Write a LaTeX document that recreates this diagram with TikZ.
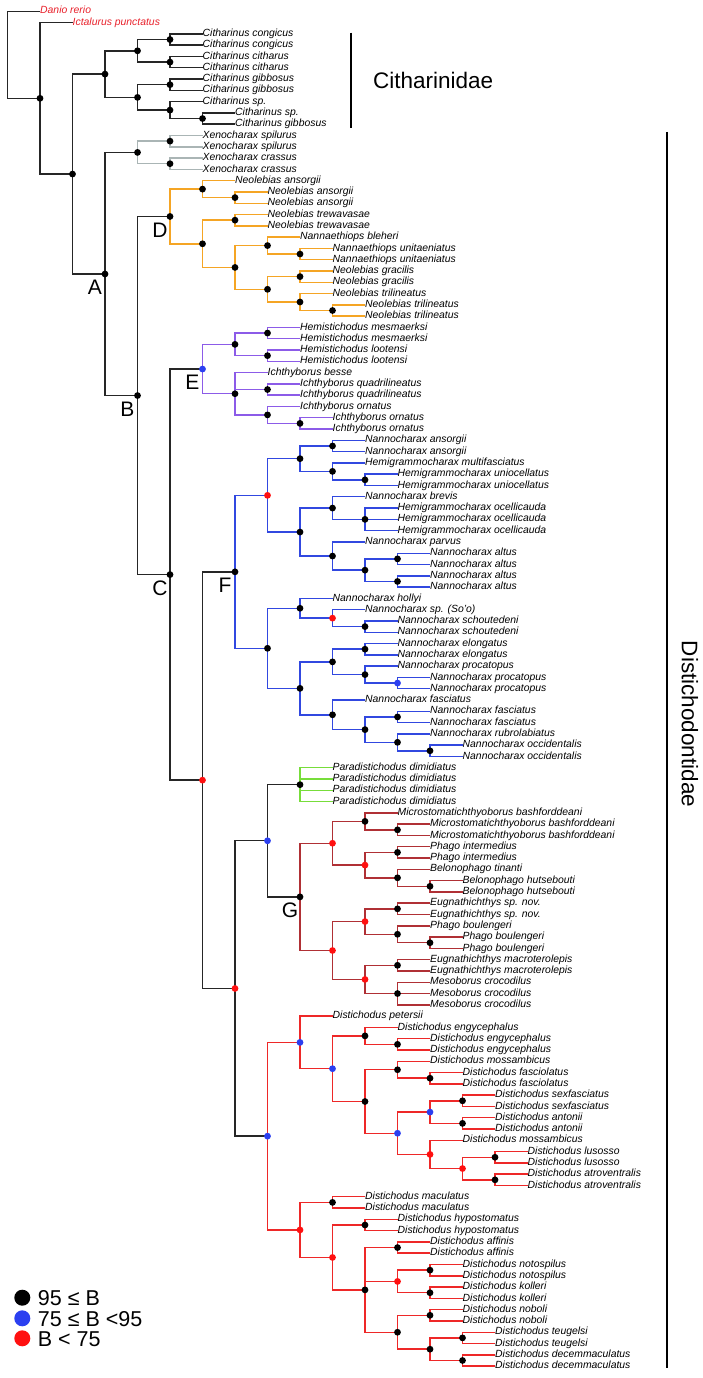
\documentclass[tikz,border=0pt]{standalone}
\usepackage{fontspec}
\setmainfont{Liberation Sans}
\usetikzlibrary{calc}
\definecolor{brk}{HTML}{262626}
\definecolor{brgray}{HTML}{AAB5B5}
\definecolor{brorange}{HTML}{F5A524}
\definecolor{brpurple}{HTML}{8C5BE8}
\definecolor{brblue}{HTML}{3148E0}
\definecolor{brgreen}{HTML}{77DD3A}
\definecolor{brdred}{HTML}{B03035}
\definecolor{brred}{HTML}{EE2828}
\definecolor{dotblue}{HTML}{2B3FF0}
\definecolor{dotred}{HTML}{FF1010}
\definecolor{outred}{HTML}{E8202A}
\newcommand\mytip[5][tiplab]{\coordinate (#2) at ({(7.5+32.5*#4)*1pt},{(-11.3-11.29*(#3-1))*1pt}); \node[#1] (#2l) at (#2) {#5};}
\newcommand\mynode[4]{\path let \p1=(#3),\p2=(#4) in coordinate (#1) at ({(7.5+32.5*#2)*1pt},{0.5*(\y1)+0.5*(\y2)});}
\newcommand\br[3]{\foreach \c in {#3} {\draw[#1] (#2) |- (\c);}}
\newcommand\dt[2]{\foreach \c in {#2} {\fill[#1] (\c) circle (3.4);}}
\begin{document}
\begin{tikzpicture}[x=1pt,y=1pt,
  tiplab/.style={anchor=mid west,inner sep=0pt,font=\fontsize{10.4}{12}\selectfont\itshape,text=black},
  outlab/.style={tiplab,text=outred},
  bk/.style={draw=brk,line width=1.45pt},
  gy/.style={draw=brgray,line width=1.45pt},
  og/.style={draw=brorange,line width=1.45pt},
  pu/.style={draw=brpurple,line width=1.45pt},
  bl/.style={draw=brblue,line width=1.45pt},
  gr/.style={draw=brgreen,line width=1.45pt},
  dr/.style={draw=brdred,line width=1.45pt},
  rd/.style={draw=brred,line width=1.45pt},
  cladelab/.style={inner sep=0pt,font=\fontsize{21}{24}\selectfont},
  famlab/.style={inner sep=0pt,font=\fontsize{22.5}{26}\selectfont},
  leglab/.style={anchor=base west,inner sep=0pt,font=\fontsize{21.5}{24}\selectfont},
  bar/.style={draw=black,line width=1.4pt}]
\useasboundingbox (0,0) rectangle (702,-1378);
% tips
\mytip[outlab]{t1}{1}{1}{Danio rerio}
\mytip[outlab]{t2}{2}{2}{Ictalurus punctatus}
\mytip{t3}{3}{6}{Citharinus congicus}
\mytip{t4}{4}{6}{Citharinus congicus}
\mytip{t5}{5}{6}{Citharinus citharus}
\mytip{t6}{6}{6}{Citharinus citharus}
\mytip{t7}{7}{6}{Citharinus gibbosus}
\mytip{t8}{8}{6}{Citharinus gibbosus}
\mytip{t9}{9}{6}{Citharinus sp.}
\mytip{t10}{10}{7}{Citharinus sp.}
\mytip{t11}{11}{7}{Citharinus gibbosus}
\mytip{t12}{12}{6}{Xenocharax spilurus}
\mytip{t13}{13}{6}{Xenocharax spilurus}
\mytip{t14}{14}{6}{Xenocharax crassus}
\mytip{t15}{15}{6}{Xenocharax crassus}
\mytip{t16}{16}{7}{Neolebias ansorgii}
\mytip{t17}{17}{8}{Neolebias ansorgii}
\mytip{t18}{18}{8}{Neolebias ansorgii}
\mytip{t19}{19}{8}{Neolebias trewavasae}
\mytip{t20}{20}{8}{Neolebias trewavasae}
\mytip{t21}{21}{9}{Nannaethiops bleheri}
\mytip{t22}{22}{10}{Nannaethiops unitaeniatus}
\mytip{t23}{23}{10}{Nannaethiops unitaeniatus}
\mytip{t24}{24}{10}{Neolebias gracilis}
\mytip{t25}{25}{10}{Neolebias gracilis}
\mytip{t26}{26}{10}{Neolebias trilineatus}
\mytip{t27}{27}{11}{Neolebias trilineatus}
\mytip{t28}{28}{11}{Neolebias trilineatus}
\mytip{t29}{29}{9}{Hemistichodus mesmaerksi}
\mytip{t30}{30}{9}{Hemistichodus mesmaerksi}
\mytip{t31}{31}{9}{Hemistichodus lootensi}
\mytip{t32}{32}{9}{Hemistichodus lootensi}
\mytip{t33}{33}{8}{Ichthyborus besse}
\mytip{t34}{34}{9}{Ichthyborus quadrilineatus}
\mytip{t35}{35}{9}{Ichthyborus quadrilineatus}
\mytip{t36}{36}{9}{Ichthyborus ornatus}
\mytip{t37}{37}{10}{Ichthyborus ornatus}
\mytip{t38}{38}{10}{Ichthyborus ornatus}
\mytip{t39}{39}{11}{Nannocharax ansorgii}
\mytip{t40}{40}{11}{Nannocharax ansorgii}
\mytip{t41}{41}{11}{Hemigrammocharax multifasciatus}
\mytip{t42}{42}{12}{Hemigrammocharax uniocellatus}
\mytip{t43}{43}{12}{Hemigrammocharax uniocellatus}
\mytip{t44}{44}{11}{Nannocharax brevis}
\mytip{t45}{45}{12}{Hemigrammocharax ocellicauda}
\mytip{t46}{46}{12}{Hemigrammocharax ocellicauda}
\mytip{t47}{47}{12}{Hemigrammocharax ocellicauda}
\mytip{t48}{48}{11}{Nannocharax parvus}
\mytip{t49}{49}{13}{Nannocharax altus}
\mytip{t50}{50}{13}{Nannocharax altus}
\mytip{t51}{51}{13}{Nannocharax altus}
\mytip{t52}{52}{13}{Nannocharax altus}
\mytip{t53}{53}{10}{Nannocharax hollyi}
\mytip{t54}{54}{11}{Nannocharax sp. (So’o)}
\mytip{t55}{55}{12}{Nannocharax schoutedeni}
\mytip{t56}{56}{12}{Nannocharax schoutedeni}
\mytip{t57}{57}{12}{Nannocharax elongatus}
\mytip{t58}{58}{12}{Nannocharax elongatus}
\mytip{t59}{59}{12}{Nannocharax procatopus}
\mytip{t60}{60}{13}{Nannocharax procatopus}
\mytip{t61}{61}{13}{Nannocharax procatopus}
\mytip{t62}{62}{11}{Nannocharax fasciatus}
\mytip{t63}{63}{13}{Nannocharax fasciatus}
\mytip{t64}{64}{13}{Nannocharax fasciatus}
\mytip{t65}{65}{13}{Nannocharax rubrolabiatus}
\mytip{t66}{66}{14}{Nannocharax occidentalis}
\mytip{t67}{67}{14}{Nannocharax occidentalis}
\mytip{t68}{68}{10}{Paradistichodus dimidiatus}
\mytip{t69}{69}{10}{Paradistichodus dimidiatus}
\mytip{t70}{70}{10}{Paradistichodus dimidiatus}
\mytip{t71}{71}{10}{Paradistichodus dimidiatus}
\mytip{t72}{72}{12}{Microstomatichthyoborus bashforddeani}
\mytip{t73}{73}{13}{Microstomatichthyoborus bashforddeani}
\mytip{t74}{74}{13}{Microstomatichthyoborus bashforddeani}
\mytip{t75}{75}{13}{Phago intermedius}
\mytip{t76}{76}{13}{Phago intermedius}
\mytip{t77}{77}{13}{Belonophago tinanti}
\mytip{t78}{78}{14}{Belonophago hutsebouti}
\mytip{t79}{79}{14}{Belonophago hutsebouti}
\mytip{t80}{80}{13}{Eugnathichthys sp. nov.}
\mytip{t81}{81}{13}{Eugnathichthys sp. nov.}
\mytip{t82}{82}{13}{Phago boulengeri}
\mytip{t83}{83}{14}{Phago boulengeri}
\mytip{t84}{84}{14}{Phago boulengeri}
\mytip{t85}{85}{13}{Eugnathichthys macroterolepis}
\mytip{t86}{86}{13}{Eugnathichthys macroterolepis}
\mytip{t87}{87}{13}{Mesoborus crocodilus}
\mytip{t88}{88}{13}{Mesoborus crocodilus}
\mytip{t89}{89}{13}{Mesoborus crocodilus}
\mytip{t90}{90}{10}{Distichodus petersii}
\mytip{t91}{91}{12}{Distichodus engycephalus}
\mytip{t92}{92}{13}{Distichodus engycephalus}
\mytip{t93}{93}{13}{Distichodus engycephalus}
\mytip{t94}{94}{13}{Distichodus mossambicus}
\mytip{t95}{95}{14}{Distichodus fasciolatus}
\mytip{t96}{96}{14}{Distichodus fasciolatus}
\mytip{t97}{97}{15}{Distichodus sexfasciatus}
\mytip{t98}{98}{15}{Distichodus sexfasciatus}
\mytip{t99}{99}{15}{Distichodus antonii}
\mytip{t100}{100}{15}{Distichodus antonii}
\mytip{t101}{101}{14}{Distichodus mossambicus}
\mytip{t102}{102}{16}{Distichodus lusosso}
\mytip{t103}{103}{16}{Distichodus lusosso}
\mytip{t104}{104}{16}{Distichodus atroventralis}
\mytip{t105}{105}{16}{Distichodus atroventralis}
\mytip{t106}{106}{11}{Distichodus maculatus}
\mytip{t107}{107}{11}{Distichodus maculatus}
\mytip{t108}{108}{12}{Distichodus hypostomatus}
\mytip{t109}{109}{12}{Distichodus hypostomatus}
\mytip{t110}{110}{13}{Distichodus affinis}
\mytip{t111}{111}{13}{Distichodus affinis}
\mytip{t112}{112}{14}{Distichodus notospilus}
\mytip{t113}{113}{14}{Distichodus notospilus}
\mytip{t114}{114}{14}{Distichodus kolleri}
\mytip{t115}{115}{14}{Distichodus kolleri}
\mytip{t116}{116}{14}{Distichodus noboli}
\mytip{t117}{117}{14}{Distichodus noboli}
\mytip{t118}{118}{15}{Distichodus teugelsi}
\mytip{t119}{119}{15}{Distichodus teugelsi}
\mytip{t120}{120}{15}{Distichodus decemmaculatus}
\mytip{t121}{121}{15}{Distichodus decemmaculatus}
% internal nodes (post-order)
\mynode{c11}{5}{t3}{t4}
\mynode{c12}{5}{t5}{t6}
\mynode{c1}{4}{c11}{c12}
\mynode{c21}{5}{t7}{t8}
\mynode{c221}{6}{t10}{t11}
\mynode{c22}{5}{t9}{c221}
\mynode{c2}{4}{c21}{c22}
\mynode{cit}{3}{c1}{c2}
\mynode{x1}{5}{t12}{t13}
\mynode{x2}{5}{t14}{t15}
\mynode{xx}{4}{x1}{x2}
\mynode{dA}{7}{t17}{t18}
\mynode{dB}{6}{t16}{dA}
\mynode{dC}{7}{t19}{t20}
\mynode{dD}{9}{t22}{t23}
\mynode{dE}{8}{t21}{dD}
\mynode{dF}{9}{t24}{t25}
\mynode{dG}{10}{t27}{t28}
\mynode{dH}{9}{t26}{dG}
\mynode{dI}{8}{dF}{dH}
\mynode{dJ}{7}{dE}{dI}
\mynode{dK}{6}{dC}{dJ}
\mynode{D}{5}{dB}{dK}
\mynode{e11}{8}{t29}{t30}
\mynode{e12}{8}{t31}{t32}
\mynode{e1}{7}{e11}{e12}
\mynode{e21}{8}{t34}{t35}
\mynode{e221}{9}{t37}{t38}
\mynode{e22}{8}{t36}{e221}
\mynode{e2}{7}{t33}{e22}
\mynode{E}{6}{e1}{e2}
\mynode{f111}{10}{t39}{t40}
\mynode{f1121}{11}{t42}{t43}
\mynode{f112}{10}{t41}{f1121}
\mynode{f11}{9}{f111}{f112}
\mynode{f1211}{11}{t45}{t47}
\mynode{f121}{10}{t44}{f1211}
\mynode{f12211}{12}{t49}{t50}
\mynode{f12212}{12}{t51}{t52}
\mynode{f1221}{11}{f12211}{f12212}
\mynode{f122}{10}{t48}{f1221}
\mynode{f12}{9}{f121}{f122}
\mynode{f1}{8}{f11}{f12}
\mynode{f2111}{11}{t55}{t56}
\mynode{f211}{10}{t54}{f2111}
\mynode{f21}{9}{t53}{f211}
\mynode{f2211}{11}{t57}{t58}
\mynode{f22121}{12}{t60}{t61}
\mynode{f2212}{11}{t59}{f22121}
\mynode{f221}{10}{f2211}{f2212}
\mynode{f22211}{12}{t63}{t64}
\mynode{f222121}{13}{t66}{t67}
\mynode{f22212}{12}{t65}{f222121}
\mynode{f2221}{11}{f22211}{f22212}
\mynode{f222}{10}{t62}{f2221}
\mynode{f22}{9}{f221}{f222}
\mynode{f2}{8}{f21}{f22}
\mynode{F}{7}{f1}{f2}
\mynode{P}{9}{t68}{t71}
\mynode{g111}{12}{t73}{t74}
\mynode{g11}{11}{t72}{g111}
\mynode{g121}{12}{t75}{t76}
\mynode{g1221}{13}{t78}{t79}
\mynode{g122}{12}{t77}{g1221}
\mynode{g12}{11}{g121}{g122}
\mynode{g1}{10}{g11}{g12}
\mynode{g211}{12}{t80}{t81}
\mynode{g2121}{13}{t83}{t84}
\mynode{g212}{12}{t82}{g2121}
\mynode{g21}{11}{g211}{g212}
\mynode{g221}{12}{t85}{t86}
\mynode{g222}{12}{t87}{t89}
\mynode{g22}{11}{g221}{g222}
\mynode{g2}{10}{g21}{g22}
\mynode{G}{9}{g1}{g2}
\mynode{k1}{8}{P}{G}
\mynode{h1111}{12}{t92}{t93}
\mynode{h111}{11}{t91}{h1111}
\mynode{h11211}{13}{t95}{t96}
\mynode{h1121}{12}{t94}{h11211}
\mynode{h112211}{14}{t97}{t98}
\mynode{h112212}{14}{t99}{t100}
\mynode{h11221}{13}{h112211}{h112212}
\mynode{h1122211}{15}{t102}{t103}
\mynode{h1122212}{15}{t104}{t105}
\mynode{h112221}{14}{h1122211}{h1122212}
\mynode{h11222}{13}{t101}{h112221}
\mynode{h1122}{12}{h11221}{h11222}
\mynode{h112}{11}{h1121}{h1122}
\mynode{h11}{10}{h111}{h112}
\mynode{h1}{9}{t90}{h11}
\mynode{h21}{10}{t106}{t107}
\mynode{h221}{11}{t108}{t109}
\mynode{h2221}{12}{t110}{t111}
\mynode{h22221}{13}{t112}{t113}
\mynode{h22222}{13}{t114}{t115}
\mynode{h2222}{12}{h22221}{h22222}
\mynode{h22231}{13}{t116}{t117}
\mynode{h222321}{14}{t118}{t119}
\mynode{h222322}{14}{t120}{t121}
\mynode{h22232}{13}{h222321}{h222322}
\mynode{h2223}{12}{h22231}{h22232}
\mynode{h222}{11}{h2221}{h2223}
\mynode{h22}{10}{h221}{h222}
\mynode{h2}{9}{h21}{h22}
\mynode{k2}{8}{h1}{h2}
\mynode{K}{7}{k1}{k2}
\mynode{C2}{6}{F}{K}
\mynode{C}{5}{E}{C2}
\mynode{B}{4}{D}{C}
\mynode{A}{3}{xx}{B}
\mynode{n2}{2}{cit}{A}
\mynode{n1}{1}{t2}{n2}
\mynode{root}{0}{t1}{n1}
% branches
\br{bk}{root}{t1,n1}
\br{bk}{n1}{t2,n2}
\br{bk}{n2}{cit,A}
\br{bk}{cit}{c1,c2}
\br{bk}{c1}{c11,c12}
\br{bk}{c11}{t3,t4}
\br{bk}{c12}{t5,t6}
\br{bk}{c2}{c21,c22}
\br{bk}{c21}{t7,t8}
\br{bk}{c22}{t9,c221}
\br{bk}{c221}{t10,t11}
\br{bk}{A}{xx,B}
\br{bk}{B}{D,C}
\br{bk}{C}{E,C2}
\br{bk}{C2}{F,K}
\br{bk}{K}{k1,k2}
\br{bk}{k1}{P,G}
\br{gy}{xx}{x1,x2}
\br{gy}{x1}{t12,t13}
\br{gy}{x2}{t14,t15}
\br{og}{D}{dB,dK}
\br{og}{dB}{t16,dA}
\br{og}{dA}{t17,t18}
\br{og}{dK}{dC,dJ}
\br{og}{dC}{t19,t20}
\br{og}{dJ}{dE,dI}
\br{og}{dE}{t21,dD}
\br{og}{dD}{t22,t23}
\br{og}{dI}{dF,dH}
\br{og}{dF}{t24,t25}
\br{og}{dH}{t26,dG}
\br{og}{dG}{t27,t28}
\br{pu}{E}{e1,e2}
\br{pu}{e1}{e11,e12}
\br{pu}{e11}{t29,t30}
\br{pu}{e12}{t31,t32}
\br{pu}{e2}{t33,e21,e22}
\br{pu}{e21}{t34,t35}
\br{pu}{e22}{t36,e221}
\br{pu}{e221}{t37,t38}
\br{bl}{F}{f1,f2}
\br{bl}{f1}{f11,f12}
\br{bl}{f11}{f111,f112}
\br{bl}{f111}{t39,t40}
\br{bl}{f112}{t41,f1121}
\br{bl}{f1121}{t42,t43}
\br{bl}{f12}{f121,f122}
\br{bl}{f121}{t44,f1211}
\br{bl}{f1211}{t45,t46,t47}
\br{bl}{f122}{t48,f1221}
\br{bl}{f1221}{f12211,f12212}
\br{bl}{f12211}{t49,t50}
\br{bl}{f12212}{t51,t52}
\br{bl}{f2}{f21,f22}
\br{bl}{f21}{t53,f211}
\br{bl}{f211}{t54,f2111}
\br{bl}{f2111}{t55,t56}
\br{bl}{f22}{f221,f222}
\br{bl}{f221}{f2211,f2212}
\br{bl}{f2211}{t57,t58}
\br{bl}{f2212}{t59,f22121}
\br{bl}{f22121}{t60,t61}
\br{bl}{f222}{t62,f2221}
\br{bl}{f2221}{f22211,f22212}
\br{bl}{f22211}{t63,t64}
\br{bl}{f22212}{t65,f222121}
\br{bl}{f222121}{t66,t67}
\br{gr}{P}{t68,t69,t70,t71}
\br{dr}{G}{g1,g2}
\br{dr}{g1}{g11,g12}
\br{dr}{g11}{t72,g111}
\br{dr}{g111}{t73,t74}
\br{dr}{g12}{g121,g122}
\br{dr}{g121}{t75,t76}
\br{dr}{g122}{t77,g1221}
\br{dr}{g1221}{t78,t79}
\br{dr}{g2}{g21,g22}
\br{dr}{g21}{g211,g212}
\br{dr}{g211}{t80,t81}
\br{dr}{g212}{t82,g2121}
\br{dr}{g2121}{t83,t84}
\br{dr}{g22}{g221,g222}
\br{dr}{g221}{t85,t86}
\br{dr}{g222}{t87,t88,t89}
\br{rd}{k2}{h1,h2}
\br{rd}{h1}{t90,h11}
\br{rd}{h11}{h111,h112}
\br{rd}{h111}{t91,h1111}
\br{rd}{h1111}{t92,t93}
\br{rd}{h112}{h1121,h1122}
\br{rd}{h1121}{t94,h11211}
\br{rd}{h11211}{t95,t96}
\br{rd}{h1122}{h11221,h11222}
\br{rd}{h11221}{h112211,h112212}
\br{rd}{h112211}{t97,t98}
\br{rd}{h112212}{t99,t100}
\br{rd}{h11222}{t101,h112221}
\br{rd}{h112221}{h1122211,h1122212}
\br{rd}{h1122211}{t102,t103}
\br{rd}{h1122212}{t104,t105}
\br{rd}{h2}{h21,h22}
\br{rd}{h21}{t106,t107}
\br{rd}{h22}{h221,h222}
\br{rd}{h221}{t108,t109}
\br{rd}{h222}{h2221,h2222,h2223}
\br{rd}{h2221}{t110,t111}
\br{rd}{h2222}{h22221,h22222}
\br{rd}{h22221}{t112,t113}
\br{rd}{h22222}{t114,t115}
\br{rd}{h2223}{h22231,h22232}
\br{rd}{h22231}{t116,t117}
\br{rd}{h22232}{h222321,h222322}
\br{rd}{h222321}{t118,t119}
\br{rd}{h222322}{t120,t121}
% support dots
\dt{black}{n1,n2,cit,c1,c2,c11,c12,c21,c22,c221,A,xx,x1,x2,B,D,dA,dB,dC,dD,dE,dF,dG,dH,dI,dJ,dK,C,e1,e11,e12,e2,e21,e22,e221,F,f11,f111,f112,f1121,f12,f121,f1211,f122,f1221,f12211,f12212,f2,f21,f2111,f22,f221,f2211,f2212,f222,f2221,f22211,f22212,f222121,P,G,g11,g111,g121,g122,g1221,g211,g212,g2121,g221,g222,h111,h1111,h112,h1121,h11211,h112211,h112212,h1122211,h1122212,h21,h221,h222,h2221,h22221,h22222,h2223,h22231,h22232,h222321,h222322}
\dt{dotblue}{E,k1,k2,h1,h11,h1122,h11221,f22121}
\dt{dotred}{C2,K,f1,f211,g1,g12,g2,g21,g22,h2,h22,h2222,h11222,h112221}
% clade letters
\foreach \n in {A,B,C,D,E,F,G}
  \node[cladelab] (lab\n) at ([xshift=-10pt,yshift=-13.5pt]\n) {\n};
% family bars
\coordinate (cb1) at (351,-32.7);
\coordinate (cb2) at (351,-127.7);
\draw[bar] (cb1) -- (cb2);
\node[famlab,anchor=west] (cithlab) at (373,-80.7) {Citharinidae};
\coordinate (db1) at (667,-132);
\coordinate (db2) at (667,-1368);
\draw[bar] (db1) -- (db2);
\node[famlab,rotate=-90] (distlab) at (690,-724) {Distichodontidae};
% legend
\coordinate (lg1) at (22.3,-1297.7);
\coordinate (lg2) at (22.3,-1318.3);
\coordinate (lg3) at (22.3,-1338.3);
\fill[black] (lg1) circle (8);
\fill[dotblue] (lg2) circle (8);
\fill[dotred] (lg3) circle (8);
\node[leglab] (lgt1) at (37.7,-1305.4) {95 ≤ B};
\node[leglab] (lgt2) at (37.7,-1326.0) {75 ≤ B <95};
\node[leglab] (lgt3) at (37.7,-1346.0) {B < 75};
\end{tikzpicture}
\end{document}
